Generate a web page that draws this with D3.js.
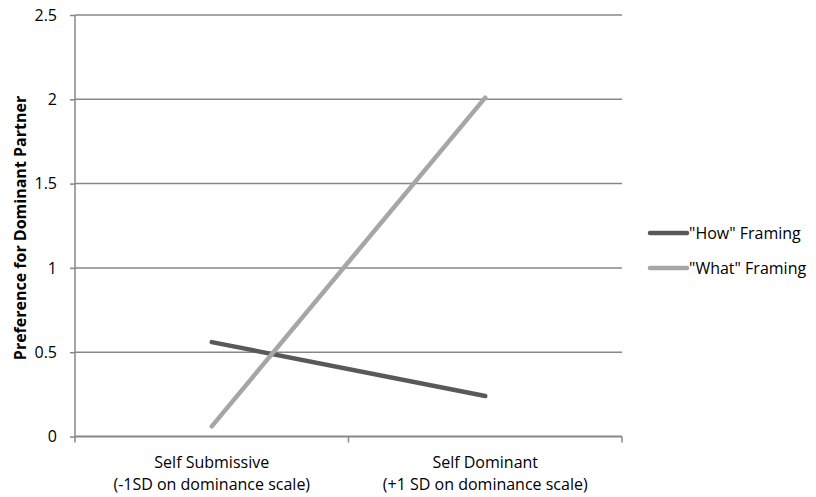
<!DOCTYPE html>
<html><head><meta charset="utf-8">
<script src="https://cdn.jsdelivr.net/npm/d3@7"></script>
<style>body{margin:0;background:#fff}svg{display:block}text{font-family:"Open Sans",sans-serif}</style>
</head><body><svg id="c" width="816" height="497"></svg>
<script>
const categories = ["Self Submissive|(-1SD on dominance scale)", "Self Dominant|(+1 SD on dominance scale)"];
const seriesNames = ['"How" Framing', '"What" Framing'];
const howValues = [0.56, 0.24];
const whatValues = [0.06, 2.01];
const yTicks = [0, 0.5, 1, 1.5, 2, 2.5];
const yTickLabels = ["0", "0.5", "1", "1.5", "2", "2.5"];
const yTitle = "Preference for Dominant Partner";
const colors = ["#595959", "#a6a6a6"];
const FS = 16;

const svg = d3.select("#c");
const x = d3.scaleBand().domain(categories).range([75, 622]);
const y = d3.scaleLinear().domain([0, 2.5]).range([436.5, 15]);
const grid = "#878787";

svg.append("g").selectAll("line").data(yTicks.filter(d => d > 0)).join("line")
  .attr("x1", 75).attr("x2", 622).attr("y1", d => y(d)).attr("y2", d => y(d))
  .attr("stroke", grid).attr("stroke-width", 1.5);

const ya = svg.append("g").attr("transform", "translate(75,0)")
  .call(d3.axisLeft(y).tickValues(yTicks).tickFormat((d, i) => yTickLabels[i]).tickSize(5).tickPadding(13));
ya.select(".domain").attr("stroke", grid).attr("stroke-width", 1.5).attr("d", `M0,${y(2.5)}V${y(0)}`);
ya.selectAll(".tick line").attr("stroke", grid).attr("stroke-width", 1.5);
ya.selectAll(".tick text").attr("font-size", FS).attr("fill", "#000").attr("font-family", "'Open Sans',sans-serif");

const xa = svg.append("g").attr("transform", `translate(0,${y(0)})`);
xa.append("line").attr("x1", 75).attr("x2", 622).attr("stroke", grid).attr("stroke-width", 2);
const bounds = [75, ...categories.map(c => x(c) + x.bandwidth())];
xa.selectAll(".tk").data(bounds).join("line").attr("class", "tk")
  .attr("x1", d => d).attr("x2", d => d).attr("y1", 0).attr("y2", 6)
  .attr("stroke", grid).attr("stroke-width", 1.5);
categories.forEach(c => {
  const parts = c.split("|");
  const t = xa.append("text").attr("text-anchor", "middle").attr("font-size", FS).attr("fill", "#000");
  parts.forEach((p, i) => t.append("tspan").attr("x", x(c) + x.bandwidth() / 2).attr("y", 31 + i * 22).text(p));
});

svg.append("text").attr("transform", `translate(26,228) rotate(-90)`).attr("text-anchor", "middle")
  .attr("font-size", FS).attr("font-weight", "bold").text(yTitle);

const line = d3.line().x((d, i) => x(categories[i]) + x.bandwidth() / 2).y(d => y(d));
[howValues, whatValues].forEach((vals, k) => {
  svg.append("path").attr("d", line(vals)).attr("fill", "none").attr("stroke", colors[k])
    .attr("stroke-width", 4.5).attr("stroke-linecap", "round");
});

seriesNames.forEach((n, k) => {
  const ly = 233 + k * 35;
  svg.append("line").attr("x1", 650).attr("x2", 687).attr("y1", ly).attr("y2", ly)
    .attr("stroke", colors[k]).attr("stroke-width", 4.5).attr("stroke-linecap", "round");
  svg.append("text").attr("x", 689).attr("y", ly + 6).attr("font-size", FS).text(n);
});
</script></body></html>
